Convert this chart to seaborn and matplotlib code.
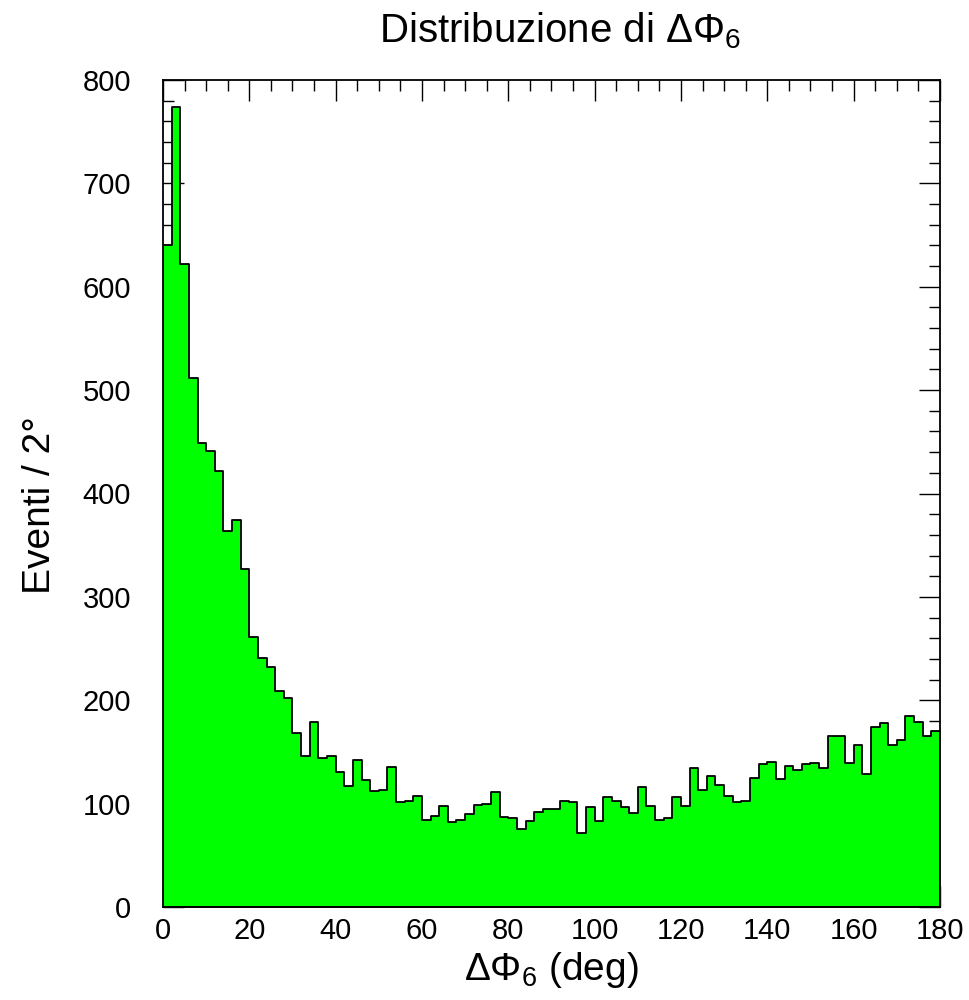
import numpy as np
import matplotlib
matplotlib.use("Agg")
import matplotlib.pyplot as plt
import seaborn as sns
from matplotlib.ticker import MultipleLocator

# Data: events per 2-degree bin, DeltaPhi6 from 0 to 180 deg
bin_edges = list(range(0, 182, 2))
counts = [640, 774, 622, 512, 449, 441, 422, 364, 374, 327,
          261, 241, 232, 209, 202, 168, 146, 179, 144, 146,
          131, 117, 142, 123, 112, 113, 135, 102, 103, 107,
          84, 88, 98, 82, 84, 90, 99, 100, 111, 87,
          86, 75, 83, 92, 95, 95, 103, 102, 72, 97,
          83, 106, 103, 97, 91, 116, 98, 84, 86, 106,
          98, 134, 113, 127, 118, 107, 102, 103, 125, 138,
          140, 124, 136, 133, 138, 139, 134, 165, 165, 139,
          157, 129, 174, 178, 157, 162, 185, 179, 165, 170]
centers = [(a + b) / 2 for a, b in zip(bin_edges[:-1], bin_edges[1:])]

title = r"Distribuzione di $\Delta\Phi_6$"
xlabel = r"$\Delta\Phi_6$ (deg)"
ylabel = "Eventi / 2°"

sns.set_theme(style="ticks")
plt.rcParams["font.family"] = ["Liberation Sans Narrow", "Liberation Sans", "DejaVu Sans"]
plt.rcParams["mathtext.fontset"] = "custom"
plt.rcParams["mathtext.rm"] = "Liberation Sans"
plt.rcParams["mathtext.it"] = "Liberation Sans"
plt.rcParams["text.color"] = "black"
plt.rcParams["axes.labelcolor"] = "black"
plt.rcParams["xtick.color"] = "black"
plt.rcParams["ytick.color"] = "black"

fig = plt.figure(figsize=(9.69, 10), dpi=100)
ax = fig.add_axes([0.1682, 0.093, 0.8018, 0.827])

sns.histplot(x=centers, weights=counts, bins=bin_edges, element="step",
             fill=True, color="#00ff00", alpha=1.0, edgecolor="black",
             linewidth=1.3, ax=ax)

ax.set_xlim(0, 180)
ax.set_ylim(0, 800)
ax.xaxis.set_major_locator(MultipleLocator(20))
ax.xaxis.set_minor_locator(MultipleLocator(5))
ax.yaxis.set_major_locator(MultipleLocator(100))
ax.yaxis.set_minor_locator(MultipleLocator(20))
ax.tick_params(which="both", direction="in", top=True, right=True,
               color="black", width=1.0, labelsize=21, labelcolor="black")
ax.tick_params(axis="x", which="both", pad=7)
ax.tick_params(axis="y", which="both", pad=23)
ax.tick_params(which="major", length=15)
ax.tick_params(which="minor", length=8)
for s in ax.spines.values():
    s.set_linewidth(1.3)
    s.set_color("black")

ax.set_xlabel(xlabel, fontsize=28, labelpad=4, color="black")
ax.set_ylabel("")
fig.text(0.041, 0.495, ylabel, fontsize=28, rotation=90, ha="center",
         va="center", color="black")
fig.text(0.578, 0.969, title, fontsize=29, ha="center", va="center",
         color="black")

fig.savefig("out.png", dpi=100)
